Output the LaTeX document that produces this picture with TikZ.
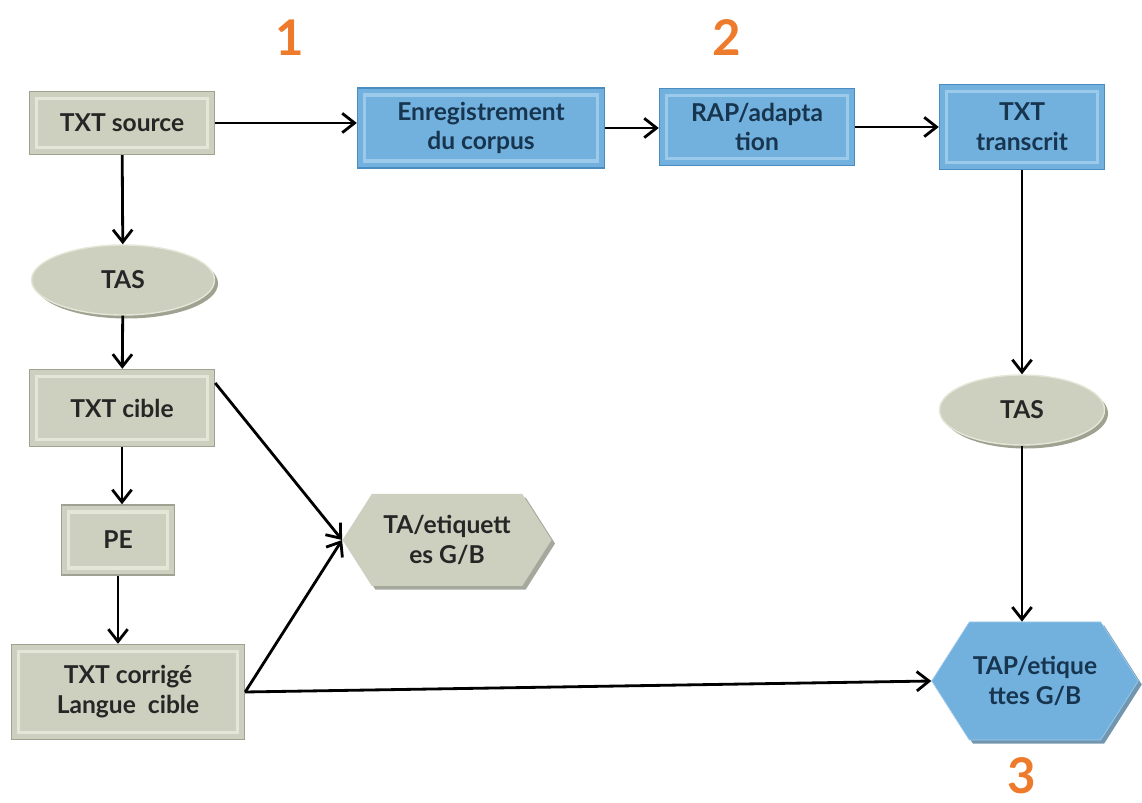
\documentclass[tikz,border=0pt]{standalone}
\usepackage{fontspec}
\setmainfont{Lato}
\usepackage{tikz}
\usetikzlibrary{positioning, arrows, arrows.meta, shapes.geometric, shapes.symbols, shadows}

\definecolor{grisbox}{HTML}{CDD0BE}
\definecolor{grisedge}{HTML}{9FA290}
\definecolor{grislight}{HTML}{E4E6D8}
\definecolor{bleubox}{HTML}{72B1DE}
\definecolor{bleuedge}{HTML}{4B8CC0}
\definecolor{bleulight}{HTML}{9CCAEB}
\definecolor{bleutxt}{HTML}{17354F}
\definecolor{orangenum}{HTML}{EE7A2C}

\tikzset{
  txt/.style={font=\fontsize{14}{17}\selectfont\bfseries, align=center},
  boxgris/.style={txt, rectangle, fill=grisbox, draw=grisedge, line width=0.8pt, text=black!85,
    path picture={\draw[grislight, line width=2pt]
      ([shift={(4pt,4pt)}]path picture bounding box.south west) rectangle
      ([shift={(-4pt,-4pt)}]path picture bounding box.north east);}},
  boxbleu/.style={txt, rectangle, fill=bleubox, draw=bleuedge, line width=0.8pt, text=bleutxt,
    path picture={\draw[bleulight, line width=2pt]
      ([shift={(4pt,4pt)}]path picture bounding box.south west) rectangle
      ([shift={(-4pt,-4pt)}]path picture bounding box.north east);}},
  ovale/.style={txt, ellipse, fill=grisbox, draw=grislight, line width=0.8pt, text=black!85,
    drop shadow={shadow xshift=2pt, shadow yshift=-2pt, fill=grisedge, opacity=1}},
  hexa/.style={txt, signal, signal to=west and east, signal pointer angle=115, inner sep=2pt,
    drop shadow={shadow xshift=2pt, shadow yshift=-2pt, fill=#1!70!black, opacity=0.8}},
  num/.style={font=\fontsize{28}{28}\selectfont\bfseries, text=orangenum},
  fleche/.style={-{Straight Barb[length=7pt, width=11pt]}, line width=1.6pt},
}

\begin{document}
\begin{tikzpicture}
    \useasboundingbox (0,0) rectangle (22.84,16.06);
    % Numbers
    \node[num] (n1) at (5.80,15.30) {1};
    \node[num] (n2) at (14.54,15.30) {2};
    \node[num] (n3) at (20.44,0.55) {3};
    % Top row
    \node[boxgris, minimum width=3.7cm, minimum height=1.26cm] (src) at (2.44,13.60) {TXT source};
    \node[boxbleu, minimum width=4.94cm, minimum height=1.6cm] (enr) at (9.62,13.50) {Enregistrement\\du corpus};
    \node[boxbleu, minimum width=3.9cm, minimum height=1.54cm] (rap) at (15.14,13.52) {RAP/adapta\\tion};
    \node[boxbleu, minimum width=3.3cm, minimum height=1.7cm] (trn) at (20.44,13.52) {TXT\\transcrit};
    % Left column
    \node[ovale, minimum width=3.66cm, minimum height=1.4cm] (tasL) at (2.46,10.46) {TAS};
    \node[boxgris, minimum width=3.7cm, minimum height=1.54cm] (cib) at (2.44,7.90) {TXT cible};
    \node[boxgris, minimum width=2.26cm, minimum height=1.4cm] (pe) at (2.36,5.26) {PE};
    \node[boxgris, minimum width=4.66cm, minimum height=1.9cm] (cor) at (2.56,2.22) {TXT corrigé\\Langue \ cible};
    % Right column
    \node[ovale, minimum width=3.3cm, minimum height=1.4cm] (tasR) at (20.44,7.86) {TAS};
    \node[hexa=grisbox, fill=grisbox, text=black!85, minimum width=4.18cm, minimum height=1.84cm] (ta) at (8.94,5.26) {TA/etiquett\\es G/B};
    \node[hexa=bleubox, fill=bleubox, draw=bleulight, text=bleutxt, minimum width=4.1cm, minimum height=2.36cm] (tap) at (20.70,2.44) {TAP/etique\\ttes G/B};
    % Arrows
    \draw[fleche] (src) -- (src -| enr.west);
    \draw[fleche] (enr) -- (enr -| rap.west);
    \draw[fleche] (rap) -- (rap -| trn.west);
    \draw[fleche] (src) -- (tasL);
    \draw[fleche] (tasL) -- (cib);
    \draw[fleche] (cib) -- (cib.south |- pe.north);
    \draw[fleche] (pe) -- (pe.south |- cor.north);
    \draw[fleche] (cib.15) -- (ta.west);
    \draw[fleche] (cor.east) -- (ta.west);
    \draw[fleche] (cor.east) -- (tap.west);
    \draw[fleche] (trn) -- (tasR);
    \draw[fleche] (tasR.south) -- (tasR.south |- tap.north);
\end{tikzpicture}
\end{document}
